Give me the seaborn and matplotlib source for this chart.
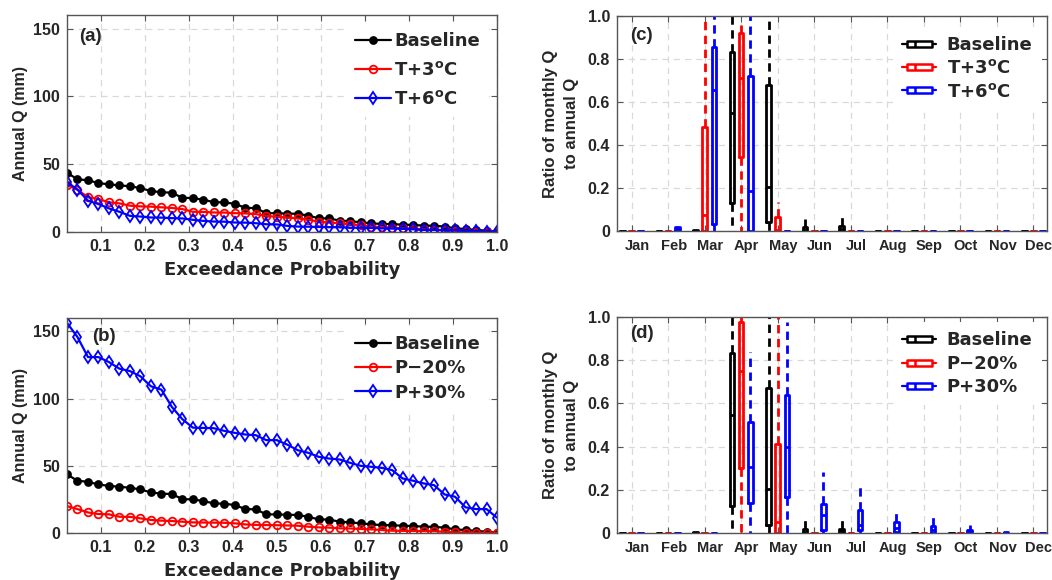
import numpy as np
import pandas as pd
import matplotlib
matplotlib.use('Agg')
import matplotlib.pyplot as plt
from matplotlib.lines import Line2D
from matplotlib.path import Path
import seaborn as sns

# ---- data: annual flow duration (panels a, b) ----
n_years = 42
exceedance = np.arange(1, n_years + 1) / n_years

baseline = [43.6, 38.9, 38.1, 36.1, 35.1, 34.4, 33.7, 32.4, 30.2, 29.3,
            29.0, 25.2, 25.0, 23.8, 22.0, 21.8, 20.8, 17.8, 17.6, 13.9,
            13.8, 13.6, 13.4, 12.1, 10.1, 10.0, 8.4, 7.9, 7.2, 6.4,
            5.9, 5.8, 5.4, 5.2, 4.7, 4.6, 4.0, 2.7, 2.2, 1.5,
            1.0, 0.2]
t_plus3 = [34.8, 31.1, 25.6, 24.4, 21.9, 21.1, 19.4, 18.9, 18.7, 18.2,
           17.7, 16.9, 14.9, 14.8, 14.4, 14.3, 13.9, 13.7, 13.2, 11.9,
           11.2, 10.7, 10.0, 9.0, 7.7, 7.0, 6.5, 5.7, 5.0, 4.0,
           3.7, 3.2, 2.7, 2.5, 2.0, 1.5, 1.4, 0.7, 0.6, 0.2,
           0.1, 0.0]
t_plus6 = [36.8, 31.3, 23.1, 20.6, 17.4, 14.9, 11.9, 11.4, 10.7, 10.6,
           10.2, 10.0, 9.0, 8.2, 7.7, 7.6, 7.0, 6.9, 6.5, 5.7,
           5.6, 4.5, 4.0, 3.9, 3.7, 3.6, 3.5, 3.2, 3.1, 3.0,
           2.7, 2.5, 2.4, 2.0, 1.5, 1.5, 1.4, 1.3, 0.7, 0.6,
           0.1, 0.0]
p_minus20 = [20.0, 17.8, 15.3, 14.1, 13.9, 12.1, 12.0, 10.9, 9.7, 9.2,
             8.9, 8.4, 7.9, 7.8, 7.7, 7.6, 7.2, 6.4, 6.0, 5.9,
             5.8, 5.6, 5.4, 4.7, 4.2, 4.0, 3.5, 3.4, 3.0, 2.7,
             2.2, 1.7, 1.6, 1.5, 1.4, 1.3, 1.0, 0.5, 0.3, 0.1,
             0.0, 0.0]
p_plus30 = [156.4, 145.8, 130.9, 130.9, 127.2, 122.3, 120.5, 116.6, 109.2, 106.7,
            93.8, 84.7, 78.4, 78.2, 78.0, 76.0, 74.5, 73.3, 72.8, 69.1,
            69.1, 65.8, 61.6, 59.7, 56.7, 55.4, 54.7, 52.2, 50.0, 49.3,
            48.5, 46.8, 40.6, 38.9, 36.9, 35.6, 28.7, 27.0, 19.1, 17.8,
            17.8, 11.4]

# ---- data: monthly ratio boxes (panels c, d), [min, q1, median, q3, max] ----
months = ['Jan', 'Feb', 'Mar', 'Apr', 'May', 'Jun',
          'Jul', 'Aug', 'Sep', 'Oct', 'Nov', 'Dec']
Z = [0, 0, 0, 0, 0]
c_baseline = [Z, Z, [0, 0, 0.002, 0.004, 0.006], [0, 0.13, 0.55, 0.834, 1.0],
              [0, 0.042, 0.205, 0.679, 1.0], [0, 0, 0.005, 0.02, 0.057],
              [0, 0, 0.008, 0.025, 0.073], Z, Z, Z, Z, Z]
c_t3 = [Z, Z, [0, 0, 0.073, 0.485, 1.0], [0, 0.345, 0.713, 0.922, 0.958],
        [0, 0, 0.005, 0.065, 0.135], Z, Z, Z, Z, Z, Z, Z]
c_t6 = [Z, [0, 0, 0.008, 0.02, 0.02], [0, 0.034, 0.658, 0.854, 1.0],
        [0, 0, 0.185, 0.72, 1.0], Z, Z, Z, Z, Z, Z, Z, Z]
d_baseline = [Z, Z, [0, 0, 0.002, 0.005, 0.006], [0, 0.124, 0.546, 0.833, 1.0],
              [0, 0.036, 0.203, 0.67, 1.0], [0, 0, 0.005, 0.02, 0.06],
              [0, 0, 0.008, 0.02, 0.067], Z, Z, Z, Z, Z]
d_p20 = [Z, Z, Z, [0, 0.30, 0.752, 0.975, 1.0], [0, 0, 0.05, 0.412, 1.0],
         Z, Z, Z, Z, Z, Z, Z]
d_p30 = [Z, Z, Z, [0, 0.139, 0.306, 0.515, 0.84], [0, 0.167, 0.40, 0.638, 0.975],
         [0, 0.015, 0.082, 0.133, 0.283], [0, 0.015, 0.036, 0.105, 0.221],
         [0, 0.005, 0.023, 0.051, 0.10], [0, 0, 0.012, 0.031, 0.082],
         [0, 0, 0.005, 0.015, 0.039], [0, 0, 0, 0.003, 0.005], Z]

colors = ['black', 'red', 'blue']

sns.set_theme(style='ticks')
plt.rcParams['font.family'] = ['Liberation Sans', 'DejaVu Sans']
plt.rcParams['font.weight'] = 'bold'
plt.rcParams['axes.labelweight'] = 'bold'
plt.rcParams['mathtext.fontset'] = 'dejavusans'
plt.rcParams['xtick.direction'] = 'in'
plt.rcParams['ytick.direction'] = 'in'

# wide bold face for horizontal texts (legend, x labels)
wide = {'family': 'DejaVu Sans', 'weight': 'bold', 'size': 13}

W, H = 1052, 580
fig = plt.figure(figsize=(W / 100, H / 100), dpi=100)
ax_a = fig.add_axes([67 / W, 1 - 232 / H, 430 / W, 217 / H])
ax_b = fig.add_axes([67 / W, 1 - 533 / H, 430 / W, 215 / H])
ax_c = fig.add_axes([617 / W, 1 - 231 / H, 430 / W, 215 / H])
ax_d = fig.add_axes([617 / W, 1 - 533 / H, 430 / W, 216 / H])


def style_axes(ax):
    ax.grid(True, linestyle=(0, (5, 4)), color='#d9d9d9', linewidth=0.9)
    ax.set_axisbelow(True)
    for s in ax.spines.values():
        s.set_color('#555555')
        s.set_linewidth(1.0)
        s.set_visible(True)
    ax.tick_params(axis='both', which='major', length=4, width=0.8, color='#555555',
                   labelsize=11.5, top=True, right=True, pad=5)


def line_panel(ax, series, labels, tag, spacing):
    marks = [('o', 'black', 5.0), ('o', 'none', 5.5), ('d', 'none', 6.5)]
    for vals, lab, col, (mk, fc, ms) in zip(series, labels, colors, marks):
        sns.lineplot(x=exceedance, y=vals, ax=ax, color=col, marker=mk,
                     markerfacecolor=fc, markeredgecolor=col, markersize=ms,
                     markeredgewidth=1.3, linewidth=1.6, label=lab)
    ax.set_xlim(1 / n_years, 1.0)
    ax.set_ylim(0, 160)
    ax.set_xticks(np.arange(0.1, 1.01, 0.1))
    ax.set_xticklabels([f'{t:.1f}' for t in np.arange(0.1, 1.01, 0.1)])
    ax.set_yticks([0, 50, 100, 150])
    ax.set_ylabel('Annual Q (mm)', fontsize=11.5, labelpad=4)
    ax.set_xlabel('Exceedance Probability', fontdict=wide, labelpad=5)
    style_axes(ax)
    ax.legend(loc='upper right', prop=wide, frameon=True, facecolor='white',
              edgecolor='none', framealpha=1, handlelength=2.0, handletextpad=0.15,
              labelspacing=spacing, borderaxespad=0.45, borderpad=0.5)
    ax.text(tag[1], tag[2], tag[0], transform=ax.transAxes, fontsize=13.5,
            fontweight='bold', va='center', ha='left')


line_panel(ax_a, [baseline, t_plus3, t_plus6],
           ['Baseline', r'T+3$^{\bf o}$C', r'T+6$^{\bf o}$C'], ('(a)', 0.028, 0.9), 0.6)
line_panel(ax_b, [baseline, p_minus20, p_plus30],
           ['Baseline', 'P\u221220%', 'P+30%'], ('(b)', 0.058, 0.915), 0.35)

# legend glyph: horizontal box with whiskers
box_path = Path([(-1, -0.22), (1, -0.22), (1, 0.22), (-1, 0.22), (-1, -0.22),
                 (-0.35, -0.22), (-0.35, 0.22)],
                [Path.MOVETO, Path.LINETO, Path.LINETO, Path.LINETO, Path.CLOSEPOLY,
                 Path.MOVETO, Path.LINETO])


def box_panel(ax, stats, names, labels, tag, top):
    rows = []
    for name, st in zip(names, stats):
        for m, five in enumerate(st, start=1):
            for v in five:
                rows.append({'month': m, 'ratio': v, 'scenario': name})
    df = pd.DataFrame(rows)
    sns.boxplot(data=df, x='month', y='ratio', hue='scenario', hue_order=names,
                palette=dict(zip(names, colors)), native_scale=True, dodge=True,
                width=0.75, gap=0.5, fill=False, whis=(0, 100), linewidth=2.0,
                showcaps=False, whiskerprops={'linestyle': (0, (3, 2))},
                legend=False, ax=ax)
    ax.set_xlim(0.6, 12.37)
    ax.set_ylim(0, 1)
    ax.set_xticks(range(1, 13))
    ax.set_xticklabels([])
    ax.set_xticks(np.arange(1, 13) + 0.15, months, minor=True)
    ax.tick_params(axis='x', which='minor', length=0, labelsize=10.5, pad=6)
    ax.set_yticks([0, 0.2, 0.4, 0.6, 0.8, 1.0])
    ax.set_yticklabels(['0', '0.2', '0.4', '0.6', '0.8', '1.0'])
    ax.set_xlabel('')
    ax.set_ylabel('Ratio of monthly Q\nto annual Q', fontsize=12, labelpad=6,
                  linespacing=1.5)
    style_axes(ax)
    handles = [Line2D([], [], color=c, linewidth=1.6, marker=box_path, markersize=18,
                      markerfacecolor='white', markeredgecolor=c, markeredgewidth=1.8)
               for c in colors]
    ax.legend(handles, labels, loc='upper right', bbox_to_anchor=(1.0, top),
              prop=wide, frameon=True, facecolor='white', edgecolor='none',
              framealpha=1, handlelength=1.9, handletextpad=0.6, labelspacing=0.3,
              borderaxespad=0.3, borderpad=0.5, numpoints=1)
    ax.text(tag[1], tag[2], tag[0], transform=ax.transAxes, fontsize=13.5,
            fontweight='bold', va='center', ha='left')


box_panel(ax_c, [c_baseline, c_t3, c_t6], ['Baseline', 'T+3', 'T+6'],
          ['Baseline', r'T+3$^{\bf o}$C', r'T+6$^{\bf o}$C'], ('(c)', 0.03, 0.91), 0.975)
box_panel(ax_d, [d_baseline, d_p20, d_p30], ['Baseline', 'P-20', 'P+30'],
          ['Baseline', 'P\u221220%', 'P+30%'], ('(d)', 0.03, 0.925), 1.0)

fig.savefig('out.png', dpi=100)
